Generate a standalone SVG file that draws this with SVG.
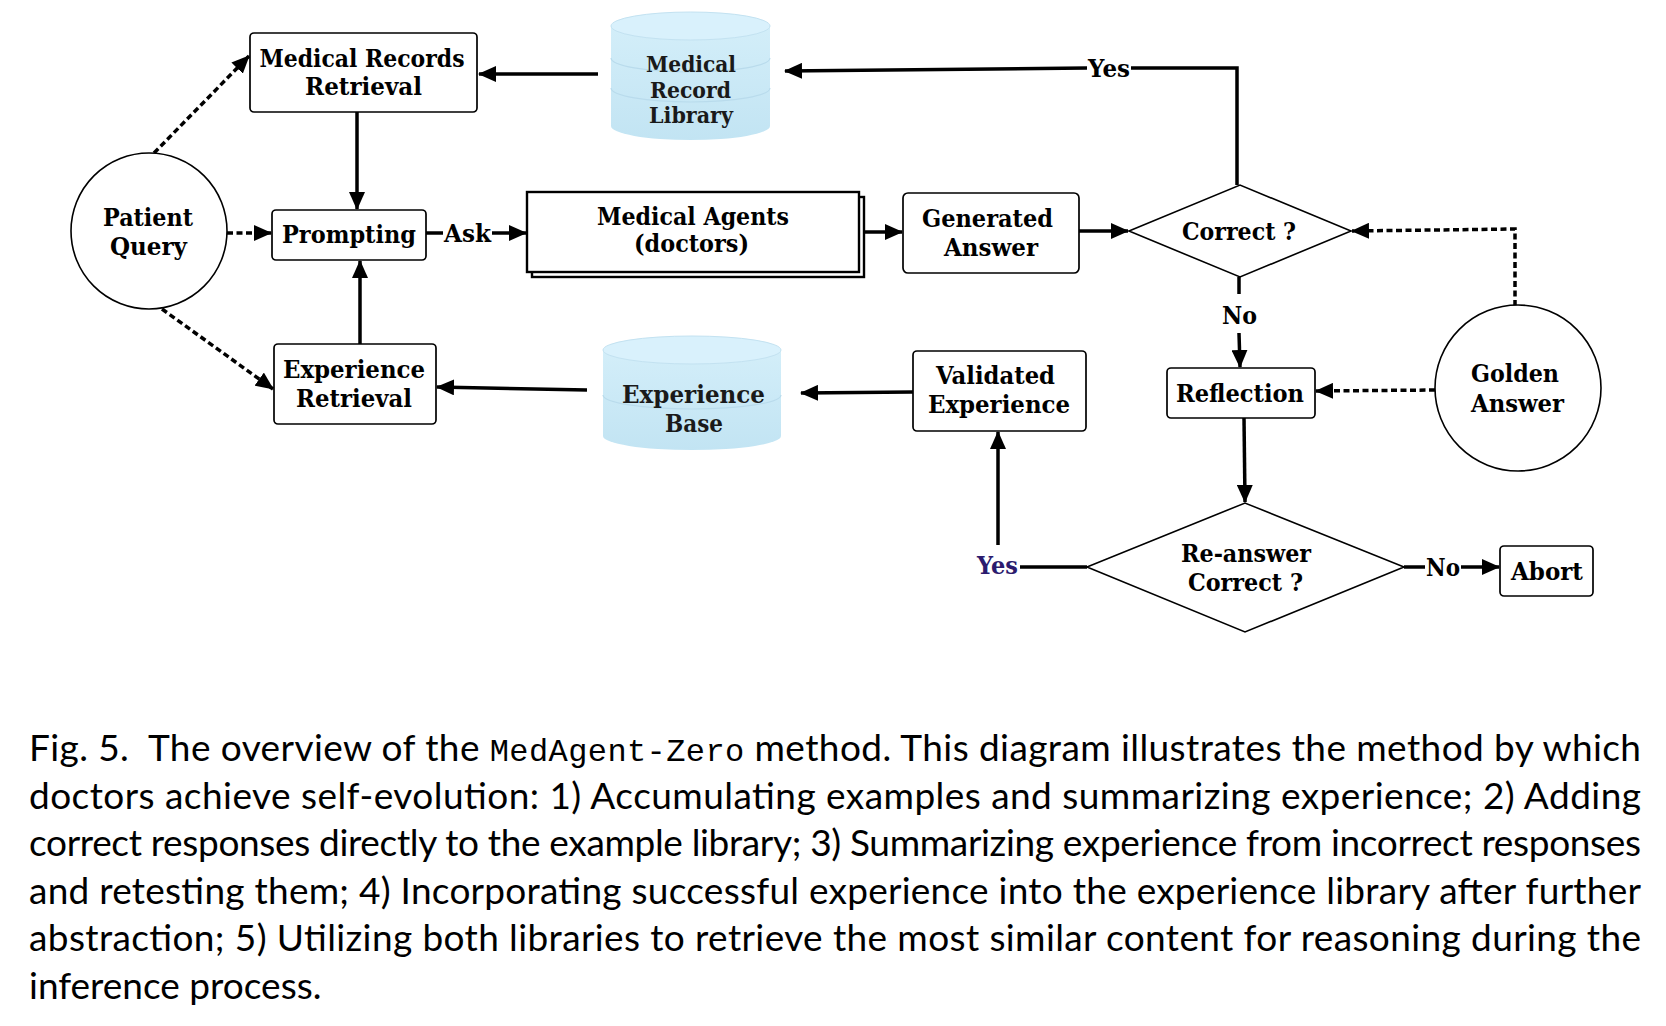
<svg xmlns="http://www.w3.org/2000/svg" width="1666" height="1026" viewBox="0 0 1666 1026">
<style>
.bg{fill:#ffffff}
.box{fill:#ffffff;stroke:#000;stroke-width:1.7}
.shape{fill:#ffffff;stroke:#000;stroke-width:1.6}
.t{font-family:"DejaVu Serif","Liberation Serif",serif;font-weight:bold;font-size:25px;fill:#000;text-anchor:middle}
.ct{font-family:"DejaVu Serif","Liberation Serif",serif;font-weight:bold;font-size:23px;fill:#1a1a1a;text-anchor:middle}
.cap{font-family:Lato,"Open Sans","Liberation Sans",sans-serif;font-size:37px;fill:#000}
.mono{font-family:"Liberation Mono","DejaVu Sans Mono",monospace;font-size:32px}
.ln{fill:none;stroke:#000;stroke-width:3.5}
.dash{fill:none;stroke:#000;stroke-width:3.5;stroke-dasharray:6 3.5}
.cylb{fill:url(#cylg);stroke:none}
.cylt{fill:#d9f1fc;stroke:#c3e2f1;stroke-width:1}
.band{fill:none;stroke:#b9dbec;stroke-width:1.2}
</style>
<defs>
<linearGradient id="cylg" x1="0" y1="0" x2="0" y2="1">
<stop offset="0" stop-color="#d3eef9"/>
<stop offset="1" stop-color="#c2e4f3"/>
</linearGradient>
<marker id="ah" markerWidth="18" markerHeight="16" refX="17" refY="8" orient="auto" markerUnits="userSpaceOnUse">
<path d="M0,0 L18,8 L0,16 z" fill="#000"/>
</marker>
</defs>
<rect class="bg" x="0" y="0" width="1666" height="1026"/>

<g id="connectors">
<line class="dash" x1="154" y1="153" x2="249" y2="56" marker-end="url(#ah)"/>
<line class="dash" x1="227" y1="233" x2="271" y2="233" marker-end="url(#ah)"/>
<line class="dash" x1="162" y1="309" x2="273" y2="389" marker-end="url(#ah)"/>
<line class="ln" x1="598" y1="74" x2="479" y2="74" marker-end="url(#ah)"/>
<line class="ln" x1="357" y1="112" x2="357" y2="209" marker-end="url(#ah)"/>
<line class="ln" x1="360" y1="344" x2="360" y2="261" marker-end="url(#ah)"/>
<line class="ln" x1="426" y1="233" x2="443" y2="233"/>
<line class="ln" x1="492" y1="233" x2="526" y2="233" marker-end="url(#ah)"/>
<line class="ln" x1="864" y1="232" x2="902" y2="232" marker-end="url(#ah)"/>
<line class="ln" x1="1079" y1="231" x2="1128" y2="231" marker-end="url(#ah)"/>
<polyline class="ln" points="1237,185 1237,68 1131,68"/>
<line class="ln" x1="1087" y1="68" x2="785" y2="71" marker-end="url(#ah)"/>
<line class="ln" x1="1239" y1="277" x2="1239" y2="294"/>
<line class="ln" x1="1239" y1="333" x2="1240" y2="367" marker-end="url(#ah)"/>
<polyline class="dash" points="1515,306 1515,229 1352,231" marker-end="url(#ah)"/>
<line class="dash" x1="1435" y1="390" x2="1316" y2="391" marker-end="url(#ah)"/>
<line class="ln" x1="1244" y1="418" x2="1245" y2="502" marker-end="url(#ah)"/>
<line class="ln" x1="1404" y1="567" x2="1425" y2="567"/>
<line class="ln" x1="1461" y1="567" x2="1499" y2="567" marker-end="url(#ah)"/>
<line class="ln" x1="1020" y1="567" x2="1087" y2="567"/>
<line class="ln" x1="998" y1="545" x2="998" y2="432" marker-end="url(#ah)"/>
<line class="ln" x1="913" y1="392" x2="801" y2="393" marker-end="url(#ah)"/>
<line class="ln" x1="587" y1="390" x2="437" y2="387" marker-end="url(#ah)"/>
<text class="t" x="467.5" y="242" textLength="47" lengthAdjust="spacingAndGlyphs">Ask</text>
<text class="t" x="1109" y="77" textLength="42" lengthAdjust="spacingAndGlyphs">Yes</text>
<text class="t" x="1239.5" y="324" textLength="35" lengthAdjust="spacingAndGlyphs">No</text>
<text class="t" x="1443" y="576" textLength="34" lengthAdjust="spacingAndGlyphs">No</text>
<text class="t" x="997.5" y="574" textLength="41" lengthAdjust="spacingAndGlyphs" style="fill:#2b1b6e">Yes</text>
</g>

<g id="patient-query">
<circle class="shape" cx="149" cy="231" r="78"/>
<text class="t" x="148" y="226" textLength="90" lengthAdjust="spacingAndGlyphs">Patient</text>
<text class="t" x="148.5" y="255" textLength="77" lengthAdjust="spacingAndGlyphs">Query</text>
</g>

<g id="medical-records-retrieval">
<rect class="box" x="250" y="33" width="227" height="79" rx="4"/>
<text class="t" x="362" y="67" textLength="205" lengthAdjust="spacingAndGlyphs">Medical Records</text>
<text class="t" x="363.5" y="95" textLength="117" lengthAdjust="spacingAndGlyphs">Retrieval</text>
</g>

<g id="medical-record-library">
<path class="cylb" d="M611,26 V126 A79.5,14 0 0 0 770,126 V26 Z"/>
<path class="band" d="M611,58 A79.5,14 0 0 0 770,58"/>
<path class="band" d="M611,88 A79.5,14 0 0 0 770,88"/>
<ellipse class="cylt" cx="690.5" cy="26" rx="79.5" ry="14"/>
<text class="ct" x="691" y="72" textLength="90" lengthAdjust="spacingAndGlyphs">Medical</text>
<text class="ct" x="690.5" y="98" textLength="81" lengthAdjust="spacingAndGlyphs">Record</text>
<text class="ct" x="691" y="123" textLength="84" lengthAdjust="spacingAndGlyphs">Library</text>
</g>

<g id="prompting">
<rect class="box" x="272" y="210" width="154" height="50" rx="4"/>
<text class="t" x="349" y="243" textLength="134" lengthAdjust="spacingAndGlyphs">Prompting</text>
</g>

<g id="medical-agents">
<rect x="532" y="197" width="332" height="80" fill="#fff" stroke="#000" stroke-width="2.4"/>
<rect x="527" y="192" width="332" height="80" fill="#fff" stroke="#000" stroke-width="2.4"/>
<text class="t" x="693" y="225" textLength="192" lengthAdjust="spacingAndGlyphs">Medical Agents</text>
<text class="t" x="691.5" y="252" textLength="115" lengthAdjust="spacingAndGlyphs">(doctors)</text>
</g>

<g id="generated-answer">
<rect class="box" x="903" y="193" width="176" height="80" rx="5"/>
<text class="t" x="987.5" y="227" textLength="131" lengthAdjust="spacingAndGlyphs">Generated</text>
<text class="t" x="991" y="256" textLength="94" lengthAdjust="spacingAndGlyphs">Answer</text>
</g>

<g id="correct">
<polygon class="shape" points="1129,231 1240,185 1351,231 1240,277"/>
<text class="t" x="1239" y="240" textLength="114" lengthAdjust="spacingAndGlyphs">Correct ?</text>
</g>

<g id="experience-retrieval">
<rect class="box" x="274" y="344" width="162" height="80" rx="4"/>
<text class="t" x="354" y="378" textLength="142" lengthAdjust="spacingAndGlyphs">Experience</text>
<text class="t" x="354" y="407" textLength="116" lengthAdjust="spacingAndGlyphs">Retrieval</text>
</g>

<g id="experience-base">
<path class="cylb" d="M603,350 V436 A89,14 0 0 0 781,436 V350 Z"/>
<path class="band" d="M603,395 A89,14 0 0 0 781,395"/>
<ellipse class="cylt" cx="692" cy="350" rx="89" ry="14"/>
<text class="t" x="693.5" y="403" textLength="143" lengthAdjust="spacingAndGlyphs" style="fill:#1a1a1a">Experience</text>
<text class="t" x="694" y="432" textLength="58" lengthAdjust="spacingAndGlyphs" style="fill:#1a1a1a">Base</text>
</g>

<g id="validated-experience">
<rect class="box" x="913" y="351" width="173" height="80" rx="4"/>
<text class="t" x="995.5" y="384" textLength="119" lengthAdjust="spacingAndGlyphs">Validated</text>
<text class="t" x="999" y="413" textLength="142" lengthAdjust="spacingAndGlyphs">Experience</text>
</g>

<g id="reflection">
<rect class="box" x="1167" y="368" width="148" height="50" rx="4"/>
<text class="t" x="1240" y="402" textLength="128" lengthAdjust="spacingAndGlyphs">Reflection</text>
</g>

<g id="golden-answer">
<circle class="shape" cx="1518" cy="388" r="83"/>
<text class="t" x="1515" y="382" textLength="88" lengthAdjust="spacingAndGlyphs">Golden</text>
<text class="t" x="1517.5" y="412" textLength="93" lengthAdjust="spacingAndGlyphs">Answer</text>
</g>

<g id="re-answer">
<polygon class="shape" points="1087,567 1245,503 1404,567 1245,632"/>
<text class="t" x="1246" y="562" textLength="130" lengthAdjust="spacingAndGlyphs">Re-answer</text>
<text class="t" x="1245.5" y="591" textLength="115" lengthAdjust="spacingAndGlyphs">Correct ?</text>
</g>

<g id="abort">
<rect class="box" x="1500" y="546" width="93" height="50" rx="4"/>
<text class="t" x="1547" y="580" textLength="72" lengthAdjust="spacingAndGlyphs">Abort</text>
</g>

<g id="caption">
<text class="cap" x="29" y="761" textLength="1612" lengthAdjust="spacing">Fig. 5.&#160; The overview of the <tspan class="mono">MedAgent-Zero</tspan> method. This diagram illustrates the method by which</text>
<text class="cap" x="29" y="809" textLength="1612" lengthAdjust="spacing">doctors achieve self-evolution: 1) Accumulating examples and summarizing experience; 2) Adding</text>
<text class="cap" x="29" y="856" textLength="1612" lengthAdjust="spacing">correct responses directly to the example library; 3) Summarizing experience from incorrect responses</text>
<text class="cap" x="29" y="904" textLength="1612" lengthAdjust="spacing">and retesting them; 4) Incorporating successful experience into the experience library after further</text>
<text class="cap" x="29" y="951" textLength="1612" lengthAdjust="spacing">abstraction; 5) Utilizing both libraries to retrieve the most similar content for reasoning during the</text>
<text class="cap" x="29" y="999">inference process.</text>
</g>
</svg>
